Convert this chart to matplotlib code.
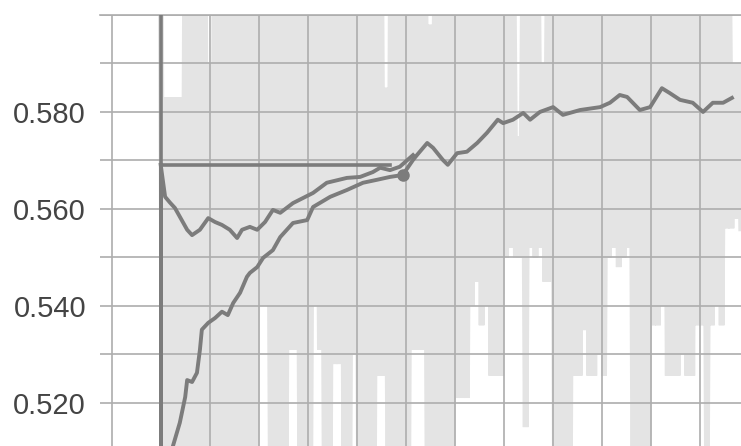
import numpy as np
import matplotlib.pyplot as plt
from matplotlib.ticker import MultipleLocator

# smoothed run A (dips then climbs, joins run B)
a_x = [0.0, 0.09, 0.19, 0.29, 0.39, 0.54, 0.64, 0.80, 0.97, 1.11, 1.25, 1.41, 1.56,
       1.66, 1.82, 1.97, 2.13, 2.29, 2.44, 2.70, 3.11, 3.39, 3.80, 4.07, 4.33, 4.48,
       4.68, 4.88, 5.15]
a_y = [0.5691, 0.5625, 0.5613, 0.5602, 0.5584, 0.5557, 0.5546, 0.5557, 0.5581, 0.5573,
       0.5567, 0.5557, 0.5540, 0.5557, 0.5563, 0.5557, 0.5573, 0.5598, 0.5592, 0.5612,
       0.5633, 0.5654, 0.5664, 0.5666, 0.5676, 0.5685, 0.5680, 0.5687, 0.5711]

# smoothed run B (starts far below, climbs to ~0.582)
b_x = [0.20, 0.25, 0.39, 0.50, 0.54, 0.64, 0.74, 0.80, 0.84, 0.97, 1.11, 1.25, 1.37,
       1.48, 1.62, 1.76, 1.82, 1.97, 2.09, 2.29, 2.44, 2.70, 2.99, 3.11, 3.46, 3.80,
       4.13, 4.41, 4.68, 4.94, 5.15, 5.23, 5.44, 5.56, 5.76, 5.86, 6.05, 6.25, 6.46,
       6.66, 6.88, 6.99, 7.19, 7.40, 7.54, 7.74, 8.01, 8.21, 8.35, 8.56, 8.97, 9.17,
       9.37, 9.52, 9.78, 9.99, 10.23, 10.39, 10.60, 10.86, 11.07, 11.27, 11.48, 11.66]
b_y = [0.5000, 0.5111, 0.5159, 0.5212, 0.5247, 0.5243, 0.5262, 0.5309, 0.5351, 0.5365,
       0.5375, 0.5388, 0.5381, 0.5406, 0.5427, 0.5460, 0.5468, 0.5480, 0.5499, 0.5515,
       0.5542, 0.5571, 0.5577, 0.5604, 0.5625, 0.5639, 0.5654, 0.5660, 0.5666, 0.5670,
       0.5701, 0.5711, 0.5736, 0.5726, 0.5701, 0.5691, 0.5715, 0.5718, 0.5736, 0.5757,
       0.5784, 0.5777, 0.5784, 0.5798, 0.5784, 0.5800, 0.5810, 0.5794, 0.5798, 0.5804,
       0.5810, 0.5819, 0.5835, 0.5831, 0.5804, 0.5810, 0.5849, 0.5839, 0.5825, 0.5819,
       0.5800, 0.5819, 0.5819, 0.5829]

# run C: flat line, with the start drop
c_x = [0.0, 0.0, 0.0, 4.68]
c_y = [0.61, 0.49, 0.5691, 0.5691]

marker_x = [4.94]
marker_y = [0.5670]

# raw (unsmoothed) values: peaks and dips, one pair per 0.1 step
raw_hi = [0.61, 0.583, 0.583, 0.583, 0.583, 0.61, 0.61, 0.61, 0.61, 0.61,
          0.59, 0.61, 0.61, 0.61, 0.61, 0.61, 0.61, 0.61, 0.61, 0.61,
          0.61, 0.61, 0.61, 0.61, 0.61, 0.61, 0.61, 0.61, 0.61, 0.61,
          0.61, 0.61, 0.61, 0.61, 0.61, 0.61, 0.61, 0.61, 0.61, 0.61,
          0.61, 0.61, 0.61, 0.61, 0.61, 0.61, 0.585, 0.61, 0.61, 0.61,
          0.61, 0.61, 0.61, 0.61, 0.61, 0.598, 0.61, 0.61, 0.61, 0.61,
          0.61, 0.61, 0.61, 0.61, 0.61, 0.61, 0.61, 0.61, 0.61, 0.61,
          0.61, 0.61, 0.61, 0.575, 0.61, 0.61, 0.61, 0.61, 0.59, 0.61,
          0.61, 0.61, 0.61, 0.61, 0.61, 0.61, 0.61, 0.61, 0.61, 0.61,
          0.61, 0.61, 0.61, 0.61, 0.61, 0.61, 0.61, 0.61, 0.61, 0.61,
          0.61, 0.61, 0.61, 0.61, 0.61, 0.61, 0.61, 0.61, 0.61, 0.61,
          0.61, 0.61, 0.61, 0.61, 0.61, 0.61, 0.61, 0.59, 0.59]
raw_lo = [0.50, 0.50, 0.50, 0.50, 0.50, 0.50, 0.50, 0.50, 0.50, 0.50,
          0.50, 0.50, 0.50, 0.50, 0.50, 0.50, 0.50, 0.50, 0.50, 0.50,
          0.540, 0.540, 0.50, 0.50, 0.50, 0.50, 0.531, 0.531, 0.50, 0.50,
          0.50, 0.540, 0.531, 0.50, 0.50, 0.528, 0.528, 0.50, 0.50, 0.530,
          0.50, 0.50, 0.50, 0.50, 0.5256, 0.5256, 0.50, 0.50, 0.50, 0.50,
          0.50, 0.531, 0.531, 0.531, 0.50, 0.50, 0.50, 0.50, 0.50, 0.50,
          0.521, 0.521, 0.521, 0.540, 0.545, 0.536, 0.540, 0.5256, 0.5256, 0.5256,
          0.550, 0.552, 0.550, 0.550, 0.515, 0.552, 0.550, 0.552, 0.545, 0.545,
          0.50, 0.50, 0.50, 0.50, 0.5256, 0.5256, 0.535, 0.5256, 0.5256, 0.530,
          0.5256, 0.550, 0.552, 0.548, 0.550, 0.552, 0.50, 0.50, 0.50, 0.50,
          0.536, 0.536, 0.540, 0.5256, 0.5256, 0.5256, 0.530, 0.5256, 0.5256, 0.536,
          0.536, 0.51, 0.536, 0.540, 0.536, 0.556, 0.556, 0.558, 0.556]

step = 0.1
raw_x = []
raw_y = []
for i, (hi, lo) in enumerate(zip(raw_hi, raw_lo)):
    raw_x += [i * step, i * step + step / 2]
    raw_y += [hi, lo]

fig = plt.figure(figsize=(7.41, 4.46), dpi=100)
ax = fig.add_axes([100 / 741, 0, 641 / 741, 431 / 446])

ax.plot(raw_x, raw_y, color='#e4e4e4', lw=4.2, zorder=1, solid_joinstyle='miter')

line_col = '#7c7c7c'
ax.plot(c_x, c_y, color=line_col, lw=2.6, zorder=3)
ax.plot(a_x, a_y, color=line_col, lw=2.8, zorder=3, solid_joinstyle='round')
ax.plot(b_x, b_y, color=line_col, lw=2.8, zorder=3, solid_joinstyle='round')
ax.plot(marker_x, marker_y, 'o', color=line_col, ms=8, zorder=4)

ax.set_xlim(-1.239, 11.845)
ax.set_ylim(0.5111, 0.6000)

ax.set_yticks([0.52, 0.54, 0.56, 0.58])
ax.set_yticklabels(['0.520', '0.540', '0.560', '0.580'])
ax.yaxis.set_minor_locator(MultipleLocator(0.01))
ax.xaxis.set_major_locator(MultipleLocator(1.0))
ax.set_xticklabels([])
ax.tick_params(axis='both', which='both', length=0)
ax.tick_params(axis='y', labelsize=21, labelcolor='#444444', pad=10)
for lab in ax.get_yticklabels():
    lab.set_family('Liberation Sans')

ax.set_axisbelow(False)
ax.grid(True, which='both', color='#adadad', lw=1.2)
ax.grid(False, which='minor', axis='x')

for s in ['left', 'right', 'bottom']:
    ax.spines[s].set_visible(False)
ax.spines['top'].set_color('#adadad')
ax.spines['top'].set_linewidth(1.2)
ax.patch.set_facecolor('white')

fig.savefig('out.png', dpi=100)
